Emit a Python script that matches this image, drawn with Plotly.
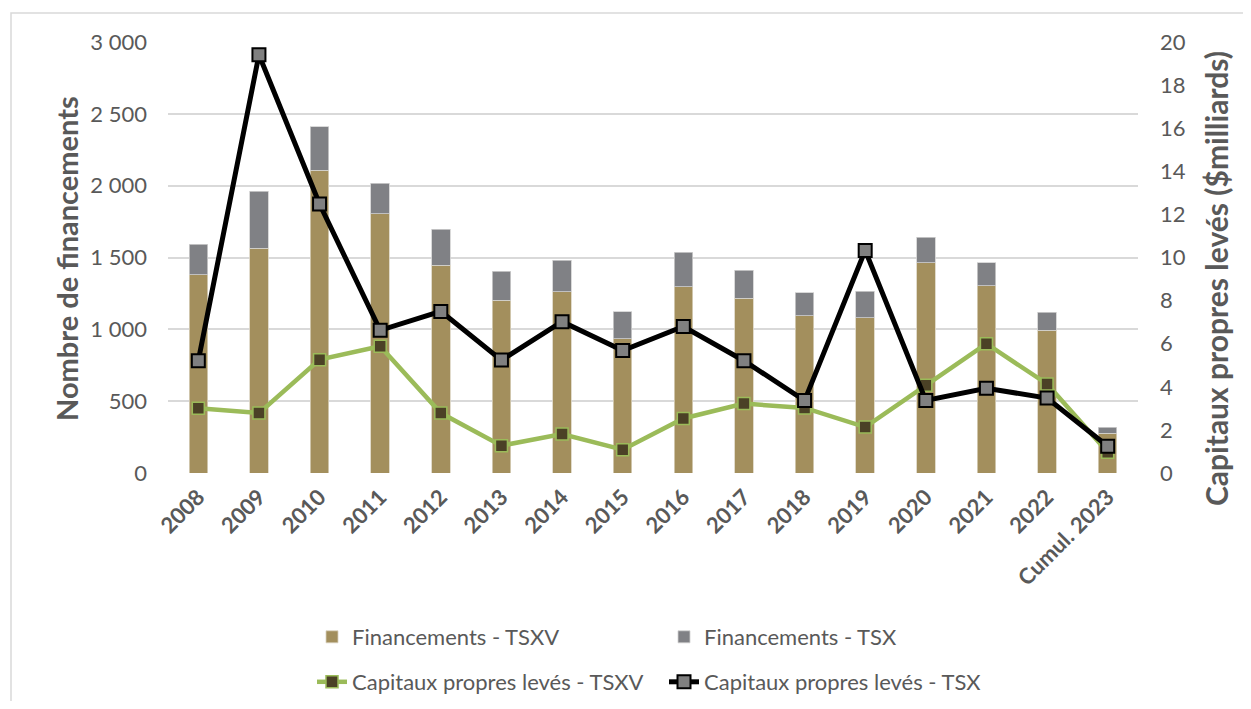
import plotly.graph_objects as go

categories = ["2008", "2009", "2010", "2011", "2012", "2013", "2014", "2015",
              "2016", "2017", "2018", "2019", "2020", "2021", "2022", "Cumul. 2023"]
fin_tsxv = [1380, 1566, 2109, 1803, 1445, 1204, 1262, 933, 1295, 1218, 1095, 1079, 1464, 1304, 993, 278]
fin_total = [1594, 1960, 2410, 2018, 1698, 1406, 1480, 1121, 1538, 1410, 1253, 1264, 1640, 1462, 1118, 318]
fin_tsx = [t - v for t, v in zip(fin_total, fin_tsxv)]
cap_tsxv = [3.00, 2.78, 5.26, 5.88, 2.78, 1.27, 1.81, 1.08, 2.53, 3.22, 3.02, 2.13, 4.07, 6.00, 4.13, 0.96]
cap_tsx = [5.21, 19.41, 12.48, 6.62, 7.50, 5.24, 7.02, 5.68, 6.80, 5.21, 3.36, 10.33, 3.37, 3.93, 3.48, 1.24]
left_ticks = [0, 500, 1000, 1500, 2000, 2500, 3000]
left_tick_text = ["0", "500", "1 000", "1 500", "2 000", "2 500", "3 000"]
right_ticks = [0, 2, 4, 6, 8, 10, 12, 14, 16, 18, 20]

TXT = "#595959"
FONT = "Lato, 'Open Sans', sans-serif"

fig = go.Figure()
fig.add_trace(go.Bar(x=categories, y=fin_tsxv, name="Financements - TSXV",
                     marker=dict(color="#A38F5D", line=dict(color="#d9d2bf", width=0.8)),
                     legend="legend"))
fig.add_trace(go.Bar(x=categories, y=fin_tsx, name="Financements - TSX",
                     marker=dict(color="#808185", line=dict(color="#d0d0d0", width=0.8)),
                     legend="legend"))
fig.add_trace(go.Scatter(x=categories, y=cap_tsxv, name="Capitaux propres levés - TSXV",
                         yaxis="y2", mode="lines+markers",
                         line=dict(color="#9BBB59", width=4.5),
                         marker=dict(symbol="square", size=12, color="#4B4126",
                                     line=dict(color="#9BBB59", width=1.5)),
                         legend="legend2"))
fig.add_trace(go.Scatter(x=categories, y=cap_tsx, name="Capitaux propres levés - TSX",
                         yaxis="y2", mode="lines+markers",
                         line=dict(color="#000000", width=5),
                         marker=dict(symbol="square", size=13, color="#808080",
                                     line=dict(color="#000000", width=2)),
                         legend="legend2"))

# Page has an 8px body margin: figure is drawn 8px smaller, coordinates given in reference pixels
OFF = 8
W, H = 1251 - 2 * OFF, 709 - 2 * OFF
PL, PR, PT, PB = 168, 1138, 42, 473          # plot area in reference pixels
L, R, T, B = PL - OFF, W - (PR - OFF), PT - OFF, H - (PB - OFF)
pw, ph = PR - PL, PB - PT

def px_x(p):
    return (p - PL) / pw

def px_y(p):
    return (PB - p) / ph

fig.update_layout(
    width=W, height=H,
    margin=dict(l=L, r=R, t=T, b=B, autoexpand=False),
    paper_bgcolor="white", plot_bgcolor="white",
    barmode="stack", bargap=0.695,
    font=dict(family=FONT, color=TXT, size=20),
    xaxis=dict(type="category", range=[-0.5, 15.5], tickangle=-45, showgrid=False, showline=False,
               tickfont=dict(family=FONT, size=22, color=TXT, weight="bold"),
               ticks="", ticklabelstandoff=6),
    yaxis=dict(range=[0, 3000], tickvals=left_ticks, ticktext=left_tick_text,
               showgrid=True, gridcolor="#d9d9d9", gridwidth=1.5,
               zeroline=False, showline=False, ticks="",
               tickfont=dict(family=FONT, size=22, color=TXT),
               ticklabelstandoff=20),
    yaxis2=dict(range=[0, 20], tickvals=right_ticks, overlaying="y", side="right",
                showgrid=False, zeroline=False, showline=False, ticks="",
                tickfont=dict(family=FONT, size=22, color=TXT),
                ticklabelstandoff=21),
    legend=dict(orientation="h", x=px_x(312), xanchor="left", y=px_y(637), yanchor="middle",
                entrywidth=307, entrywidthmode="pixels",
                font=dict(family=FONT, size=22, color=TXT), bgcolor="rgba(0,0,0,0)",
                traceorder="normal"),
    legend2=dict(orientation="h", x=px_x(312), xanchor="left", y=px_y(682), yanchor="middle",
                 entrywidth=307, entrywidthmode="pixels",
                 font=dict(family=FONT, size=22, color=TXT), bgcolor="rgba(0,0,0,0)",
                 traceorder="normal"),
    annotations=[
        dict(text="Nombre de financements", textangle=-90, xref="paper", yref="paper",
             x=px_x(66), y=px_y(259), xanchor="center", yanchor="middle", showarrow=False,
             font=dict(family=FONT, size=29, color=TXT, weight="bold")),
        dict(text="Capitaux propres levés ($milliards)", textangle=-90, xref="paper", yref="paper",
             x=px_x(1216), y=px_y(279), xanchor="center", yanchor="middle", showarrow=False,
             font=dict(family=FONT, size=30, color=TXT, weight="bold")),
    ],
    shapes=[
        dict(type="rect", xref="paper", yref="paper",
             x0=px_x(11), x1=px_x(1300), y0=px_y(760), y1=px_y(13),
             line=dict(color="#d9d9d9", width=1.5), fillcolor="rgba(0,0,0,0)", layer="below"),
    ],
)

fig.write_html("out.html")
